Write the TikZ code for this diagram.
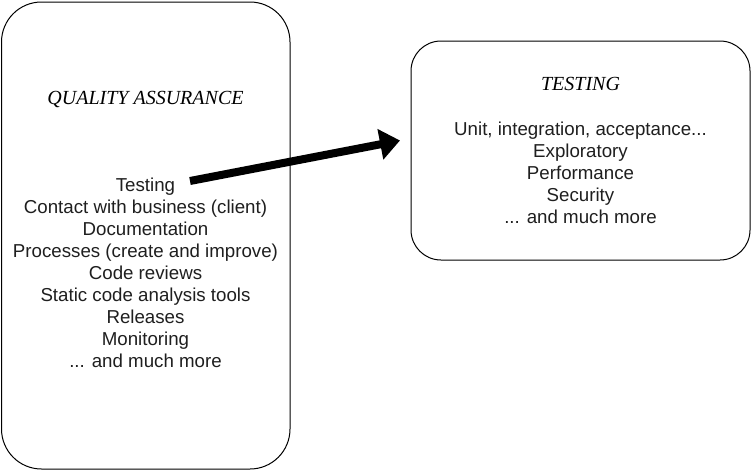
\documentclass[tikz,border=0pt]{standalone}
\usepackage{fontspec}
\newfontfamily\bodyfont{Liberation Sans}
\newfontfamily\titlefont{Liberation Serif}
\usetikzlibrary{arrows.meta}
\tikzset{
  box/.style={draw=black, line width=1pt, fill=white, inner sep=0pt},
  titletext/.style={font=\titlefont\itshape\fontsize{20}{22}\selectfont, inner sep=0pt, anchor=base, text=black},
  bodytext/.style={font=\bodyfont\fontsize{18.7}{22}\selectfont, align=center, inner sep=0pt, anchor=base, text=black!88},
  bigarrow/.style={line width=8pt, -{Triangle[length=20pt,width=30pt]}}
}
\begin{document}
\begin{tikzpicture}[x=1pt,y=-1pt]
\useasboundingbox[fill=white] (0,0) rectangle (751,471);
\node[box, rounded corners=40pt, minimum width=288.5pt, minimum height=467pt] (qa) at (145.75,235.5) {};
\node[box, rounded corners=30pt, minimum width=339pt, minimum height=219pt] (test) at (580.5,150.5) {};
\node[titletext] (qatitle) at (145.5,104) {QUALITY ASSURANCE};
% multi-line nodes: base anchor is the baseline of the last line
\node[bodytext] (qalist) at (145.5,367) {Testing\\Contact with business (client)\\Documentation\\Processes (create and improve)\\Code reviews\\Static code analysis tools\\Releases\\Monitoring\\... and much more};
\node[titletext] (testtitle) at (580.5,90) {TESTING};
\node[bodytext] (testlist) at (580.5,223) {Unit, integration, acceptance...\\Exploratory\\Performance\\Security\\... and much more};
\coordinate (arrowstart) at (190,181);
\coordinate (arrowend) at (400,140.5);
\draw[bigarrow] (arrowstart) -- (arrowend);
\end{tikzpicture}
\end{document}
